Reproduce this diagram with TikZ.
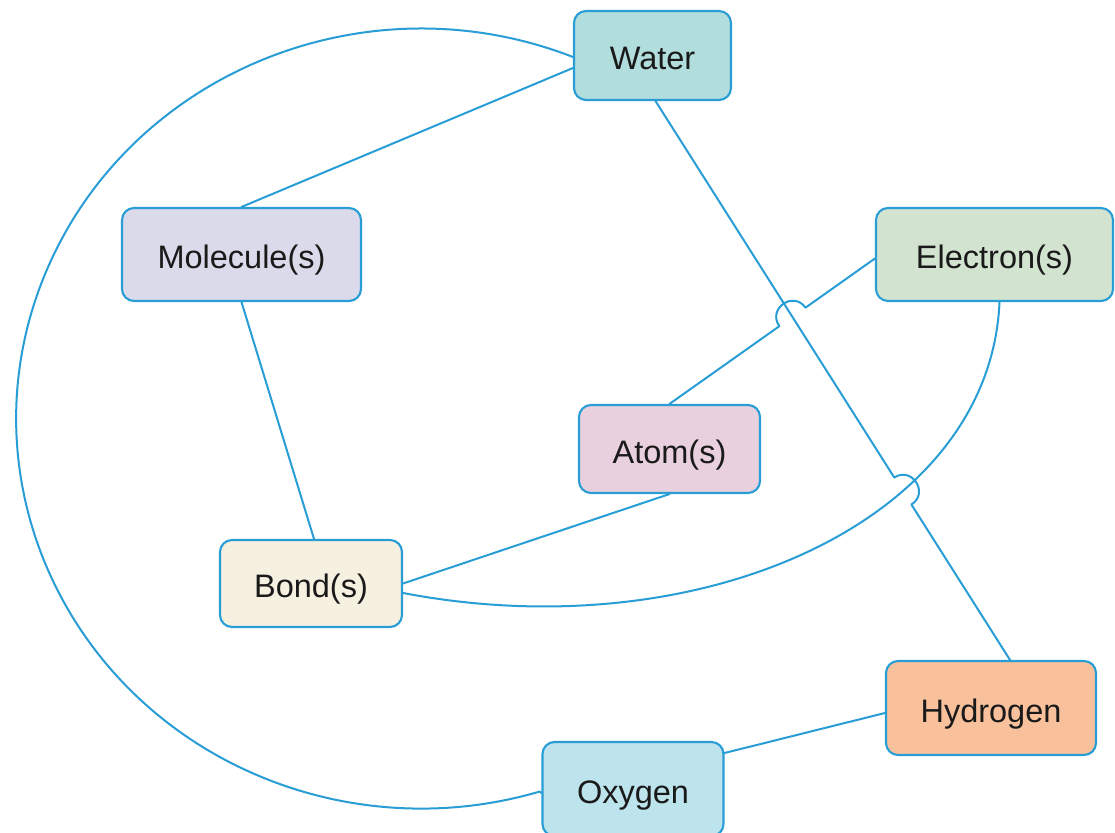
\documentclass[tikz,border=0pt]{standalone}
\usepackage{fontspec}
\setmainfont{Liberation Sans}
\usetikzlibrary{calc,intersections}
\definecolor{edgeblue}{RGB}{40,157,214}
\definecolor{txt}{RGB}{26,26,26}
\definecolor{cWater}{RGB}{178,221,221}
\definecolor{cMol}{RGB}{218,218,235}
\definecolor{cElec}{RGB}{210,227,208}
\definecolor{cAtom}{RGB}{233,208,222}
\definecolor{cBond}{RGB}{245,240,224}
\definecolor{cHyd}{RGB}{248,192,155}
\definecolor{cOxy}{RGB}{189,227,236}
\tikzset{
  concept/.style={draw=edgeblue, line width=2.1pt, rounded corners=12pt, inner sep=0pt,
    text=txt, font=\fontsize{32.5}{38}\selectfont, text height=29pt, text depth=0pt,
    align=center},
  conn/.style={draw=edgeblue, line width=2pt, line cap=round, line join=round}
}
\begin{document}
\begin{tikzpicture}[x=1pt,y=1pt]
\fill[white] (0,0) rectangle (1115,832);
\useasboundingbox (0,0) rectangle (1115,832);

% nodes (y measured upward)
\node[concept, fill=cWater, minimum width=157pt, minimum height=89pt] (water) at (652.5,776.5) {Water};
\node[concept, fill=cMol, minimum width=239pt, minimum height=93pt] (molecule) at (241.5,577.5) {Molecule(s)};
\node[concept, fill=cElec, minimum width=237pt, minimum height=93pt] (electron) at (994.5,577.5) {Electron(s)};
\node[concept, fill=cAtom, minimum width=181pt, minimum height=88pt] (atom) at (669.5,383) {Atom(s)};
\node[concept, fill=cBond, minimum width=182pt, minimum height=87pt] (bond) at (311,248.5) {Bond(s)};
\node[concept, fill=cHyd, minimum width=210pt, minimum height=94pt] (hydrogen) at (991,124) {Hydrogen};
\node[concept, fill=cOxy, minimum width=181pt, minimum height=94pt] (oxygen) at (633,43) {Oxygen};

% connection points
\coordinate (whs) at ($(water.south)+(3,0)$);
\coordinate (whe) at ($(hydrogen.north)+(19,0)$);
\coordinate (aee) at ($(electron.west)+(0,-4)$);
\coordinate (ebs) at ($(electron.south)+(5,0)$);
\coordinate (ebc1) at ($(electron.south)+(-4.5,-219)$);
\coordinate (ebc2) at ($(bond.east)+(298,-66.5)$);
\coordinate (ebe) at ($(bond.east)+(0,-9.5)$);

% invisible paths for crossings
\path[name path=wh] (whs) -- (whe);
\path[name path=ae] (atom.north) -- (aee);
\path[name path=eb] (ebs) .. controls (ebc1) and (ebc2) .. (ebe);
\path[name intersections={of=wh and ae, by=j1}];
\path[name intersections={of=wh and eb, by=j2}];

\coordinate (h1a) at ($(j1)!16pt!(atom.north)$);
\coordinate (h1b) at ($(j1)!16pt!(aee)$);
\coordinate (h1c) at ($(h1a)!21.3pt!90:(j1)$);
\coordinate (h1d) at ($(h1b)!21.3pt!-90:(j1)$);
\coordinate (h2a) at ($(j2)!16pt!(whs)$);
\coordinate (h2b) at ($(j2)!16pt!(whe)$);
\coordinate (h2c) at ($(h2a)!21.3pt!90:(j2)$);
\coordinate (h2d) at ($(h2b)!21.3pt!-90:(j2)$);

% connectors
\draw[conn] ($(water.west)+(0,-12.5)$) -- (molecule.north);
\draw[conn] ($(water.west)+(0,-1.5)$) arc[start angle=68, end angle=287, x radius=405pt, y radius=390pt] -- ($(oxygen.west)+(0,-4)$);
\draw[conn] (whs) -- (h2a) .. controls (h2c) and (h2d) .. (h2b) -- (whe);
\draw[conn] (molecule.south) -- ($(bond.north)+(3,0)$);
\draw[conn] (atom.north) -- (h1a) .. controls (h1c) and (h1d) .. (h1b) -- (aee);
\draw[conn] (atom.south) -- (bond.east);
\draw[conn] (ebs) .. controls (ebc1) and (ebc2) .. (ebe);
\draw[conn] ($(hydrogen.west)+(0,-5)$) -- ($(oxygen.east)+(0,36)$);
\end{tikzpicture}
\end{document}
